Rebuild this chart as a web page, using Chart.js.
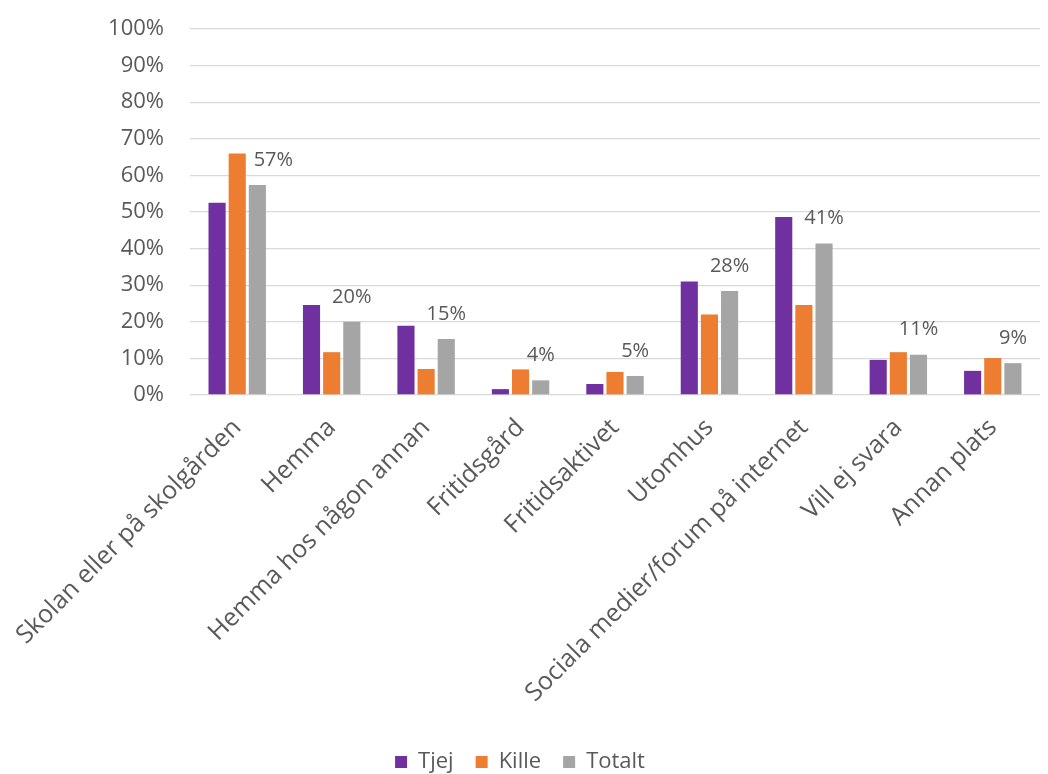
<!DOCTYPE html>
<html>
<head>
<meta charset="utf-8">
<script src="https://cdn.jsdelivr.net/npm/chart.js@4"></script>
<style>
  html, body { margin: 0; padding: 0; background: #fff; }
  #wrap { width: 1048px; height: 774px; }
</style>
</head>
<body>
<div id="wrap"><canvas id="chart"></canvas></div>
<script>
// Kategorier och värden (procent)
const categories = [
  'Skolan eller på skolgården', 'Hemma', 'Hemma hos någon annan', 'Fritidsgård',
  'Fritidsaktivet', 'Utomhus', 'Sociala medier/forum på internet', 'Vill ej svara', 'Annan plats'
];
const tjej   = [52.5, 24.6, 18.9, 1.6, 3.0, 31.0, 48.6, 9.6, 6.6];
const kille  = [66.0, 11.7, 7.1, 7.0, 6.3, 22.0, 24.6, 11.7, 10.1];
const totalt = [57.4, 20.0, 15.3, 4.0, 5.2, 28.4, 41.4, 11.0, 8.7];
const yTicks = [0, 10, 20, 30, 40, 50, 60, 70, 80, 90, 100];

const textColor = '#595959';
const fontFam = '"Open Sans", "Noto Sans", sans-serif';

// Etiketter ovanför de grå staplarna (flyttas åt höger om orange stapel är i vägen)
const totalLabels = {
  id: 'totalLabels',
  afterDatasetsDraw(chart) {
    const ctx = chart.ctx;
    const meta = chart.getDatasetMeta(2);
    const orange = chart.getDatasetMeta(1);
    ctx.save();
    ctx.font = '20px ' + fontFam;
    ctx.fillStyle = textColor;
    ctx.textAlign = 'center';
    ctx.textBaseline = 'middle';
    meta.data.forEach((bar, i) => {
      const y = bar.y - 25;
      const shift = orange.data[i].y < y + 10 ? 16 : 0;
      ctx.fillText(Math.round(totalt[i]) + '%', bar.x + shift, y);
    });
    ctx.restore();
  }
};

new Chart(document.getElementById('chart'), {
  type: 'bar',
  data: {
    labels: categories,
    datasets: [
      { label: 'Tjej',   data: tjej,   backgroundColor: '#7030A0' },
      { label: 'Kille',  data: kille,  backgroundColor: '#ED7D31' },
      { label: 'Totalt', data: totalt, backgroundColor: '#A5A5A5' }
    ]
  },
  options: {
    responsive: true,
    maintainAspectRatio: false,
    animation: false,
    datasets: { bar: { categoryPercentage: 0.64, barPercentage: 0.85 } },
    layout: { padding: { left: 0, right: 8, top: 0, bottom: -9 } },
    plugins: {
      tooltip: { enabled: false },
      legend: {
        position: 'bottom',
        labels: {
          color: textColor,
          font: { family: fontFam, size: 22 },
          boxWidth: 12,
          boxHeight: 12,
          padding: 22
        }
      }
    },
    scales: {
      x: {
        grid: { display: false },
        border: { display: false },
        afterFit(axis) { axis.height = 334; },
        ticks: {
          color: textColor,
          font: { family: fontFam, size: 25 },
          minRotation: 45,
          maxRotation: 45,
          padding: 10
        }
      },
      y: {
        min: 0,
        max: 100,
        afterBuildTicks(axis) { axis.ticks = yTicks.map(v => ({ value: v })); },
        afterFit(axis) {
          axis.width = 190;
          axis.paddingTop = 29;
          axis.paddingBottom = 0;
        },
        grid: { color: '#D9D9D9', lineWidth: 1.3, drawTicks: false },
        border: { display: false },
        ticks: {
          color: textColor,
          font: { family: fontFam, size: 22 },
          padding: 26,
          callback: v => v + '%'
        }
      }
    }
  },
  plugins: [totalLabels]
});
</script>
</body>
</html>
